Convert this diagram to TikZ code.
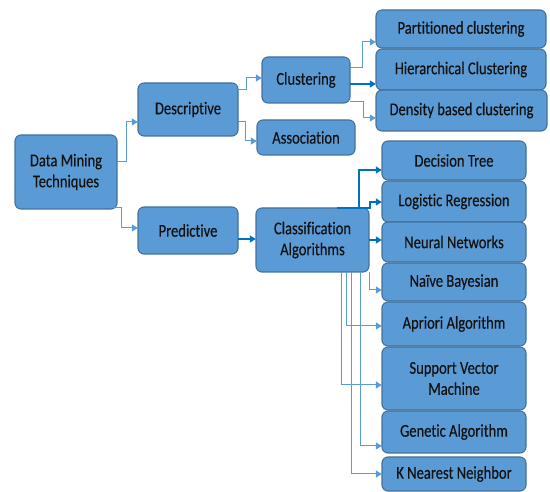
\documentclass[tikz,border=0pt]{standalone}
\usepackage{fontspec}
\setmainfont{Carlito}[FakeStretch=0.81, FakeBold=0.3, Ligatures={NoCommon}]
\usetikzlibrary{arrows.meta}
\definecolor{boxfill}{HTML}{5B9BD5}
\definecolor{boxline}{HTML}{41719C}
\definecolor{lightln}{HTML}{5B9BD5}
\definecolor{darkln}{HTML}{0070C0}
\definecolor{txt}{HTML}{111111}
\tikzset{
  x=1pt, y=1pt,
  bx/.style={draw=boxline, line width=1.1pt, fill=boxfill, rounded corners=6pt},
  lc/.style={draw=lightln, line width=1pt, -{Triangle[length=6pt,width=7pt]}},
  dc/.style={draw=darkln, line width=1.3pt, -{Triangle[length=6pt,width=7pt]}}
}
\newcommand{\bxat}[6]{% name, x1, y1, x2, y2, text
  \path[bx] (#2,-#3) rectangle (#4,-#5);
  \node[text=txt, align=center, font=\fontsize{18}{21}\selectfont, inner sep=0pt,
        minimum width=#4pt-#2pt, minimum height=#5pt-#3pt] (#1) at ({(#2+#4)/2},{-(#3+#5)/2}) {#6};}
\begin{document}
\begin{tikzpicture}
\useasboundingbox (0,0) rectangle (550,-492);
\bxat{dmt}{15}{135}{117}{209}{Data Mining\\Techniques}
\bxat{desc}{138}{83}{238}{136}{Descriptive}
\bxat{pred}{138}{207}{238}{254}{Predictive}
\bxat{clus}{262}{57}{350}{103}{Clustering}
\bxat{assoc}{257}{120}{355}{155}{Association}
\bxat{class}{256}{208}{369}{272}{Classification\\Algorithms}
\bxat{part}{376}{10}{546}{48}{Partitioned clustering}
\bxat{hier}{376}{49}{546}{90}{Hierarchical Clustering}
\bxat{dens}{376}{90}{547}{131}{Density based clustering}
\bxat{dt}{382}{141}{526}{180}{Decision Tree}
\bxat{lr}{382}{181}{526}{222}{Logistic Regression}
\bxat{nn}{382}{222}{526}{262}{Neural Networks}
\bxat{nb}{382}{263}{526}{301}{Naïve Bayesian}
\bxat{ap}{382}{302}{526}{346}{Apriori Algorithm}
\bxat{svm}{382}{347}{526}{410}{Support Vector\\Machine}
\bxat{ga}{382}{411}{526}{453}{Genetic Algorithm}
\bxat{knn}{382}{457}{526}{491}{K Nearest Neighbor}

\draw[lc] (dmt.east|-0,-162) -- (126,-162) |- (desc.west|-0,-122);
\draw[lc] (110,-208) -- (121,-208) |- (pred.west|-0,-228);
\draw[lc] (desc.east|-0,-90) -- (246,-90) |- (clus.west|-0,-78);
\draw[lc] (desc.east|-0,-122) -- (245,-122) |- (assoc.west|-0,-141);
\draw[dc] (pred.east|-0,-239) -- (class.west|-0,-239);
\draw[lc] (clus.east|-0,-68) -- (362,-68) |- (part.west|-0,-42);
\draw[dc] (clus.east|-0,-84) -- (hier.west|-0,-84);
\draw[lc] (clus.east|-0,-102) -- (363,-102) |- (dens.west|-0,-118);
\draw[dc] (337,-208) -- (359,-208) |- (dt.west|-0,-170);
\draw[dc] (359,-208) -- (370,-208) |- (lr.west|-0,-202);
\draw[dc] (class.east|-0,-240) -- (nn.west|-0,-240);
\draw[lc] (369,-272) |- (nb.west|-0,-290);
\draw[lc] (346,-272) |- (ap.west|-0,-326);
\draw[lc] (341,-272) |- (svm.west|-0,-385);
\draw[lc] (360,-272) |- (ga.west|-0,-446);
\draw[lc] (351,-272) |- (knn.west|-0,-474);
\end{tikzpicture}
\end{document}
